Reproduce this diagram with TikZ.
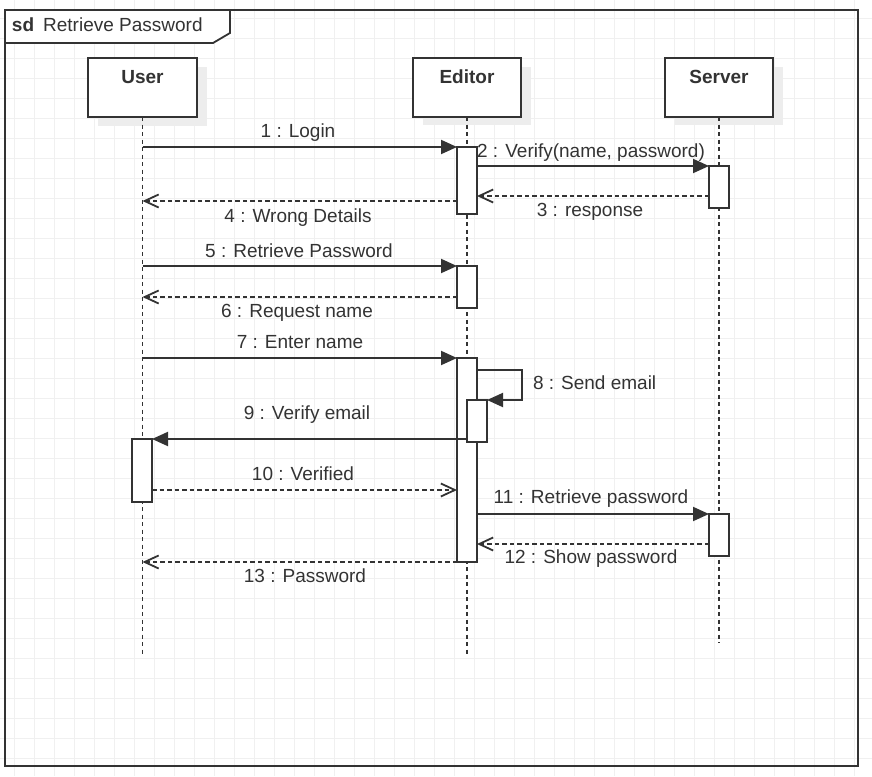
\documentclass[tikz,border=0pt]{standalone}
\usepackage{fontspec}
\setmainfont{Liberation Sans}
\usetikzlibrary{arrows.meta}
\definecolor{ink}{HTML}{333333}
\definecolor{gridc}{HTML}{F0F0F0}
\definecolor{shade}{HTML}{EDEDED}

\begin{document}
\begin{tikzpicture}[x=1pt,y=-1pt,
  every node/.style={font=\fontsize{19}{23}\selectfont, text=ink, inner sep=0pt, outer sep=0pt},
  gridline/.style={draw=gridc, line width=0.8pt},
  frameline/.style={draw=ink, line width=2.4pt},
  head/.style={draw=ink, line width=1.9pt, fill=white, minimum width=109pt,
    text height=25pt, text depth=34pt, anchor=north, font=\fontsize{19}{23}\selectfont\bfseries},
  headshadow/.style={fill=shade, draw=none},
  lifeline/.style={draw=ink, line width=1.8pt, dash pattern=on 4pt off 3.5pt},
  bar/.style={draw=ink, line width=1.9pt, fill=white, minimum width=20pt, anchor=north},
  call/.style={draw=ink, line width=1.9pt, -{Triangle[length=16pt,width=14pt]}},
  reply/.style={draw=ink, line width=1.8pt, dash pattern=on 4.5pt off 3pt,
    -{Straight Barb[length=14pt,width=13pt]}},
  msg/.style={anchor=base}
]
\useasboundingbox (0,0) rectangle (872,776);

% background grid
\foreach \x in {14,34,...,874} \draw[gridline] (\x,0) -- (\x,776);
\foreach \y in {18,38,...,778} \draw[gridline] (0,\y) -- (872,\y);

% sequence diagram frame with its name tab
\draw[frameline] (5,10) rectangle (858,766);
\draw[frameline, fill=white, line width=1.8pt] (5,10) -- (230,10) -- (230,33) -- (213,43) -- (5,43) -- cycle;
\node[anchor=base west] (title) at (12,32) {\textbf{sd}\hspace{9pt}Retrieve Password};

% participant heads (with soft shadows)
\fill[headshadow] (98,67) rectangle (207,126);
\fill[headshadow] (423,67) rectangle (531,125);
\fill[headshadow] (675,67) rectangle (783,125);
\node[head] (user) at (142.5,58) {User};
\node[head, minimum width=108pt] (editor) at (467,58) {Editor};
\node[head, minimum width=108pt] (server) at (719,58) {Server};

% lifelines
\coordinate (userend) at (142.5,654);
\coordinate (editorend) at (467,654);
\coordinate (serverend) at (719,643);
\draw[lifeline] (user.south) -- (userend);
\draw[lifeline] (editor.south) -- (editorend);
\draw[lifeline] (server.south) -- (serverend);

% activation bars
\node[bar, minimum height=67pt] (e1) at (467,147) {};
\node[bar, minimum height=42pt] (s1) at (719,166) {};
\node[bar, minimum height=42pt] (e2) at (467,266) {};
\node[bar, minimum height=204pt] (e3) at (467,358) {};
\node[bar, minimum height=42pt] (e4) at (477,400) {};
\node[bar, minimum height=63pt] (u1) at (142,439) {};
\node[bar, minimum height=42pt] (s2) at (719,514) {};

% messages
\draw[call] (user.south |- e1.north west) -- (e1.north west);
\draw[call] (e1.east |- s1.north) -- (s1.north west);
\draw[reply] ([yshift=-30pt]s1.north west) coordinate (m3) -- (e1.east |- m3);
\draw[reply] ([yshift=-54pt]e1.north west) coordinate (m4) -- (user.south |- m4);
\draw[call] (user.south |- e2.north west) -- (e2.north west);
\draw[reply] ([yshift=-31pt]e2.north west) coordinate (m6) -- (user.south |- m6);
\draw[call] (user.south |- e3.north west) -- (e3.north west);
\draw[call] ([yshift=-12pt]e3.north east) -- ++(45,0) |- (e4.north east);
\draw[call] (e4.west |- u1.north) -- (u1.north east);
\draw[reply] ([yshift=-51pt]u1.north east) coordinate (m10) -- (e3.west |- m10);
\draw[call] (e3.east |- s2.north) -- (s2.north west);
\draw[reply] ([yshift=-30pt]s2.north west) coordinate (m12) -- (e3.east |- m12);
\draw[reply] (e3.south west) -- (user.south |- e3.south west);

% message labels
\node[msg] (l1) at (298,137) {1 : Login};
\node[msg] (l2) at (591,157) {2 : Verify(name, password)};
\node[msg] (l3) at (590,216) {3 : response};
\node[msg] (l4) at (298,222) {4 : Wrong Details};
\node[msg] (l5) at (299,257) {5 : Retrieve Password};
\node[msg] (l6) at (297,317) {6 : Request name};
\node[msg] (l7) at (300,348) {7 : Enter name};
\node[anchor=base west] (l8) at (533,389) {8 : Send email};
\node[msg] (l9) at (307,419) {9 : Verify email};
\node[msg] (l10) at (303,480) {10 : Verified};
\node[msg] (l11) at (591,503) {11 : Retrieve password};
\node[msg] (l12) at (591,563) {12 : Show password};
\node[msg] (l13) at (305,582) {13 : Password};
\end{tikzpicture}
\end{document}
